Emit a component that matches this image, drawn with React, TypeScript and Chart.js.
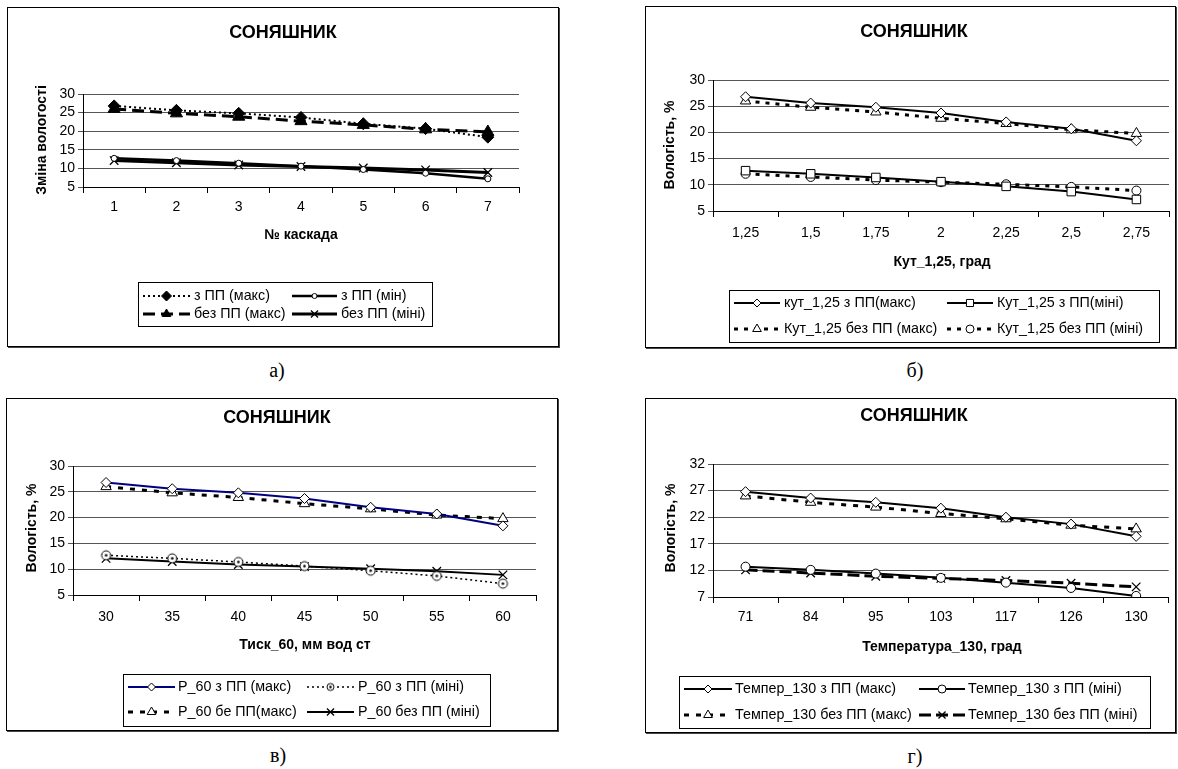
import React, { useEffect, useRef } from 'react';
import { Chart, registerables } from 'chart.js';
import { drawPoint } from 'chart.js/helpers';

Chart.register(...registerables);

const FONT = "'Liberation Sans', Arial, Helvetica, sans-serif";

// ---- categories ----
const cascadeLabels = ['1', '2', '3', '4', '5', '6', '7'];
const angleLabels = ['1,25', '1,5', '1,75', '2', '2,25', '2,5', '2,75'];
const pressureLabels = ['30', '35', '40', '45', '50', '55', '60'];
const temperatureLabels = ['71', '84', '95', '103', '117', '126', '130'];

// ---- series values (moisture, %) ----
const maxWithPP = [26.8, 25.6, 24.8, 23.7, 22.0, 20.7, 18.4];
const maxWithoutPP = [26.0, 24.8, 23.9, 22.7, 21.7, 20.5, 19.8];
const minWithPP = [12.7, 12.1, 11.4, 10.6, 9.7, 8.7, 7.2];
const minWithoutPP = [12.1, 11.5, 10.9, 10.5, 10.1, 9.6, 8.9];

// ---- y tick ranges [min, max, step] ----
const yRangeStd = [5, 30, 5];
const yRangeTemp = [7, 32, 5];

function makeDotCircle(r: number) {
  const c = document.createElement('canvas');
  const s = Math.ceil(r * 2 + 4);
  c.width = s;
  c.height = s;
  const g = c.getContext('2d')!;
  g.fillStyle = '#fff';
  g.strokeStyle = '#000';
  g.lineWidth = 1;
  g.beginPath();
  g.arc(s / 2, s / 2, r, 0, Math.PI * 2);
  g.fill();
  g.stroke();
  g.fillStyle = '#000';
  g.beginPath();
  g.arc(s / 2, s / 2, 1.3, 0, Math.PI * 2);
  g.fill();
  return c;
}

type Series = {
  label: string;
  data: number[];
  color: string;
  width: number;
  dash: number[];
  point: any;
  radius: number;
  lradius: number;
  fill: string;
  pbw: number;
};

type Spec = {
  rect: { x: number; y: number; w: number; h: number };
  plot: { l: number; t: number; r: number; b: number };
  labels: string[];
  yr: number[];
  title: [number, number];
  xTitle: string;
  xTitlePos: [number, number];
  yTitle: string;
  yTitlePos: [number, number];
  legend: {
    l: number; t: number; r: number; b: number;
    rows: [number, number];
    samples: [[number, number], [number, number]];
    texts: [number, number];
  };
  series: Series[];
  caption: string;
  captionPos: [number, number];
  xTickPad: number;
};

const S = (label: string, data: number[], color: string, width: number, dash: number[], point: any, radius: number, lradius: number, fill: string, pbw = 1): Series =>
  ({ label, data, color, width, dash, point, radius, lradius, fill, pbw });

function buildSpecs(): Spec[] {
  const dotCircle = makeDotCircle(4.5);
  return [
    {
      rect: { x: 7, y: 7, w: 552, h: 340 },
      plot: { l: 83, t: 94, r: 519, b: 187 },
      labels: cascadeLabels,
      yr: yRangeStd,
      title: [283, 33],
      xTitle: '№ каскада',
      xTitlePos: [301, 235],
      yTitle: 'Зміна вологості',
      yTitlePos: [42, 140],
      legend: { l: 138, t: 282, r: 432, b: 326, rows: [296, 314], samples: [[143, 190], [292, 337]], texts: [194, 341] },
      series: [
        S('з ПП (макс)', maxWithPP, '#000', 2, [2, 3], 'rectRot', 6, 5, '#000'),
        S('з ПП (мін)', minWithPP, '#000', 2.5, [], 'circle', 3, 2.5, '#fff'),
        S('без ПП (макс)', maxWithoutPP, '#000', 3, [12, 6], 'triangle', 7, 5, '#000'),
        S('без ПП (міні)', minWithoutPP, '#000', 3, [], 'crossRot', 6, 5, '#000', 1.3),
      ],
      caption: 'а)',
      captionPos: [277, 370],
      xTickPad: 6,
    },
    {
      rect: { x: 645, y: 6, w: 531, h: 342 },
      plot: { l: 713, t: 80, r: 1171, b: 211 },
      labels: angleLabels,
      yr: yRangeStd,
      title: [914, 32],
      xTitle: 'Кут_1,25, град',
      xTitlePos: [942, 262],
      yTitle: 'Вологість, %',
      yTitlePos: [670, 145],
      legend: { l: 729, t: 290, r: 1159, b: 342, rows: [303, 329], samples: [[734, 780], [947, 993]], texts: [784, 997] },
      series: [
        S('кут_1,25 з ПП(макс)', maxWithPP, '#000', 2, [], 'rectRot', 5, 4, '#fff'),
        S('Кут_1,25 з ПП(міні)', minWithPP, '#000', 2, [], 'rect', 6, 5, '#fff'),
        S('Кут_1,25 без ПП (макс)', maxWithoutPP, '#000', 3, [4, 6], 'triangle', 6, 5, '#fff'),
        S('Кут_1,25 без ПП (міні)', minWithoutPP, '#000', 3, [4, 6], 'circle', 4.5, 4, '#fff'),
      ],
      caption: 'б)',
      captionPos: [915, 370],
      xTickPad: 8,
    },
    {
      rect: { x: 6, y: 398, w: 552, h: 333 },
      plot: { l: 73, t: 466, r: 536, b: 595 },
      labels: pressureLabels,
      yr: yRangeStd,
      title: [277, 418],
      xTitle: 'Тиск_60, мм вод ст',
      xTitlePos: [305, 645],
      yTitle: 'Вологість, %',
      yTitlePos: [32, 528],
      legend: { l: 123, t: 674, r: 490, b: 726, rows: [687, 712], samples: [[128, 175], [307, 354]], texts: [178, 358] },
      series: [
        S('Р_60 з ПП (макс)', maxWithPP, '#000080', 2, [], 'rectRot', 5, 4, '#fff'),
        S('Р_60 з ПП (міні)', minWithPP, '#000', 1.5, [2, 3], dotCircle, 4.5, 3.5, '#fff'),
        S('Р_60 бе ПП(макс)', maxWithoutPP, '#000', 3, [5, 7], 'triangle', 6, 5, '#fff'),
        S('Р_60 без ПП (міні)', minWithoutPP, '#000', 2, [], 'crossRot', 6, 5, '#000', 1.3),
      ],
      caption: 'в)',
      captionPos: [278, 755],
      xTickPad: 8,
    },
    {
      rect: { x: 645, y: 398, w: 531, h: 335 },
      plot: { l: 713, t: 464, r: 1171, b: 597 },
      labels: temperatureLabels,
      yr: yRangeTemp,
      title: [914, 416],
      xTitle: 'Температура_130, град',
      xTitlePos: [942, 647],
      yTitle: 'Вологість, %',
      yTitlePos: [671, 528],
      legend: { l: 679, t: 676, r: 1150, b: 728, rows: [689, 715], samples: [[684, 732], [919, 965]], texts: [735, 968] },
      series: [
        S('Темпер_130 з ПП (макс)', maxWithPP, '#000', 2, [], 'rectRot', 5, 4, '#fff'),
        S('Темпер_130 з ПП (міні)', minWithPP, '#000', 2, [], 'circle', 4.5, 4, '#fff'),
        S('Темпер_130 без ПП (макс)', maxWithoutPP, '#000', 3, [5, 7], 'triangle', 6, 5, '#fff'),
        S('Темпер_130 без ПП (міні)', minWithoutPP, '#000', 3, [12, 5], 'crossRot', 6, 5, '#000', 1.3),
      ],
      caption: 'г)',
      captionPos: [915, 756],
      xTickPad: 6,
    },
  ];
}

function drawDecor(chart: any, s: Spec) {
  const ctx: CanvasRenderingContext2D = chart.ctx;
  const ox = s.rect.x;
  const oy = s.rect.y;
  ctx.save();
  ctx.fillStyle = '#000';
  ctx.textBaseline = 'middle';
  ctx.textAlign = 'center';
  ctx.font = `bold 18px ${FONT}`;
  ctx.fillText('СОНЯШНИК', s.title[0] - ox, s.title[1] - oy);
  ctx.font = `bold 14px ${FONT}`;
  ctx.fillText(s.xTitle, s.xTitlePos[0] - ox, s.xTitlePos[1] - oy);
  ctx.save();
  ctx.translate(s.yTitlePos[0] - ox, s.yTitlePos[1] - oy);
  ctx.rotate(-Math.PI / 2);
  ctx.fillText(s.yTitle, 0, 0);
  ctx.restore();

  const L = s.legend;
  ctx.strokeStyle = '#000';
  ctx.lineWidth = 1;
  ctx.strokeRect(L.l - ox + 0.5, L.t - oy + 0.5, L.r - L.l, L.b - L.t);
  ctx.font = `14.3px ${FONT}`;
  ctx.textAlign = 'left';
  s.series.forEach((ser, i) => {
    const col = i % 2;
    const row = Math.floor(i / 2);
    const y = L.rows[row] - oy;
    const [x0, x1] = L.samples[col];
    ctx.save();
    ctx.strokeStyle = ser.color;
    ctx.lineWidth = ser.width;
    ctx.setLineDash(ser.dash);
    ctx.beginPath();
    ctx.moveTo(x0 - ox, y);
    ctx.lineTo(x1 - ox, y);
    ctx.stroke();
    ctx.setLineDash([]);
    ctx.fillStyle = ser.fill;
    ctx.strokeStyle = '#000';
    ctx.lineWidth = ser.pbw;
    const pt = ser.point instanceof HTMLCanvasElement ? makeDotCircle(ser.lradius) : ser.point;
    drawPoint(ctx, { pointStyle: pt, radius: ser.lradius, rotation: 0, borderWidth: ser.pbw } as any, (x0 + x1) / 2 - ox, y);
    ctx.restore();
    ctx.fillStyle = '#000';
    ctx.fillText(ser.label, L.texts[col] - ox, y);
  });
  ctx.restore();
}

const Y_AXIS_W = 40;
const X_AXIS_H = 40;

function Panel({ spec }: { spec: Spec }) {
  const ref = useRef<HTMLCanvasElement>(null);
  useEffect(() => {
    const s = spec;
    const canvas = ref.current!;
    const W = s.rect.w;
    const H = s.rect.h;
    const pl = s.plot.l - s.rect.x;
    const pt = s.plot.t - s.rect.y;
    const pr = s.plot.r - s.rect.x;
    const pb = s.plot.b - s.rect.y;
    const chart = new Chart(canvas, {
      type: 'line',
      data: {
        labels: s.labels,
        datasets: s.series.map((ser) => ({
          label: ser.label,
          data: ser.data,
          borderColor: ser.color,
          borderWidth: ser.width,
          borderDash: ser.dash,
          pointStyle: ser.point,
          pointRadius: ser.radius,
          pointHoverRadius: ser.radius,
          pointBackgroundColor: ser.fill,
          pointBorderColor: '#000',
          pointBorderWidth: ser.pbw,
          tension: 0,
          fill: false,
        })),
      },
      options: {
        responsive: false,
        animation: false,
        devicePixelRatio: 1,
        layout: {
          padding: {
            left: pl - Y_AXIS_W,
            top: pt,
            right: W - pr,
            bottom: H - pb - X_AXIS_H,
          },
        },
        plugins: {
          legend: { display: false },
          title: { display: false },
          tooltip: { enabled: false },
        },
        scales: {
          x: {
            type: 'category',
            offset: true,
            grid: { offset: true, drawOnChartArea: false, drawTicks: true, tickLength: 6, color: '#000' },
            border: { display: true, color: '#000', width: 1 },
            ticks: { font: { family: FONT, size: 14 }, color: '#000', padding: s.xTickPad, maxRotation: 0, autoSkip: false },
            afterFit: (sc: any) => { sc.height = X_AXIS_H; },
          },
          y: {
            type: 'linear',
            min: s.yr[0],
            max: s.yr[1],
            ticks: { stepSize: s.yr[2], font: { family: FONT, size: 14 }, color: '#000', padding: 3, autoSkip: false },
            grid: { color: '#555', drawTicks: true, tickLength: 5, lineWidth: 1 },
            border: { display: true, color: '#000', width: 1 },
            afterFit: (sc: any) => { sc.width = Y_AXIS_W; },
          },
        },
      } as any,
      plugins: [{ id: 'decor', afterDraw: (c: any) => drawDecor(c, s) }],
    });
    return () => chart.destroy();
  }, [spec]);
  const r = spec.rect;
  return (
    <>
      <div
        style={{
          position: 'absolute', left: r.x, top: r.y, width: r.w, height: r.h,
          boxSizing: 'border-box', border: '1px solid #000', boxShadow: '1px 1px 0 #444', background: '#fff',
        }}
      />
      <canvas
        ref={ref}
        width={r.w}
        height={r.h}
        style={{ position: 'absolute', left: r.x, top: r.y, width: r.w, height: r.h }}
      />
      <div
        style={{
          position: 'absolute', left: spec.captionPos[0] - 50, top: spec.captionPos[1] - 12, width: 100, height: 24,
          lineHeight: '24px', textAlign: 'center', fontFamily: "'Liberation Serif', 'Times New Roman', serif", fontSize: 20, color: '#000',
        }}
      >
        {spec.caption}
      </div>
    </>
  );
}

const specs = buildSpecs();

export default function App() {
  return (
    <div style={{ position: 'absolute', left: 0, top: 0, width: 1178, height: 769, background: '#fff', overflow: 'hidden' }}>
      {specs.map((s, i) => (
        <Panel key={i} spec={s} />
      ))}
    </div>
  );
}
